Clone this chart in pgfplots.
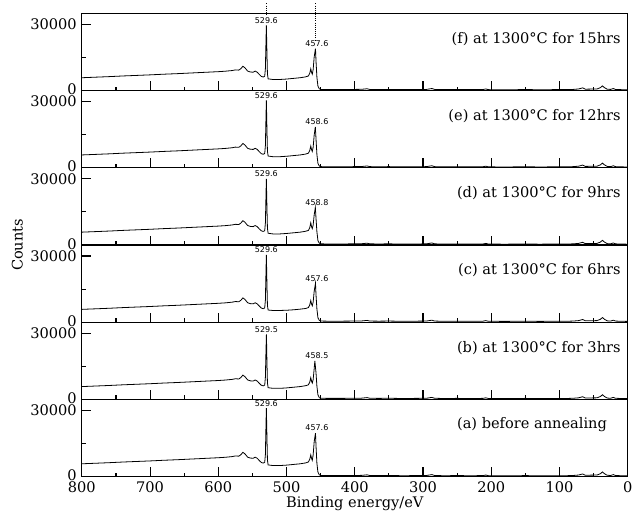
\documentclass[border=0pt,11pt]{standalone}
\usepackage{fontspec}
\setmainfont{DejaVu Serif}
\newfontfamily\lblfont{DejaVu Sans}
\usepackage{pgfplots}
\usepgfplotslibrary{groupplots}
\pgfplotsset{compat=1.18}

% shared parts of the survey spectra
\pgfplotstableread{
x y
800 5800
780 6050
760 6300
740 6600
720 6850
700 7100
680 7400
660 7650
640 7950
620 8250
600 8550
590 8750
580 9050
575 9350
570 9250
567 9900
564 11000
561 10300
557 8800
553 8400
549 8300
546 8800
543 8300
540 7300
537 6400
534 6100
}\hiBE
\pgfplotstableread{
x y
452 800
450 500
440 450
420 450
400 500
390 550
382 800
378 500
365 450
350 500
330 400
310 450
295 500
287 900
283 500
270 400
250 450
230 400
212 450
208 700
204 400
180 350
160 400
150 450
130 350
110 400
90 400
80 500
72 700
66 1200
62 600
55 650
45 700
40 1300
37 2100
34 1300
30 600
25 500
21 900
18 500
10 400
0 350
}\loBE

\tikzset{spec/.style={black, line width=0.6pt, mark=none},
  pk/.style={font=\lblfont\fontsize{6}{6}\selectfont, anchor=south, inner sep=1pt},
  ptxt/.style={anchor=east, inner sep=1pt}}

\begin{document}
\begin{tikzpicture}
\begin{groupplot}[
  group style={group size=1 by 6, vertical sep=0pt, xticklabels at=edge bottom},
  width=410pt, height=58pt, scale only axis,
  xmin=0, xmax=800, x dir=reverse, ymin=0, ymax=35000,
  xtick={0,100,...,800}, minor xtick={50,150,...,750},
  ytick={0,30000}, minor ytick={15000},
  yticklabels={\raisebox{2pt}{0},30000},
  scaled y ticks=false,
  /pgf/number format/set thousands separator={},
  /pgf/number format/assume math mode=true,
  tick align=inside, xtick pos=bottom, ytick pos=left,
  major tick length=7pt, minor tick length=3pt,
  every tick/.style={black, line width=0.8pt},
  axis line style={line width=0.9pt},
  clip=false,
]
% (f)
\nextgroupplot
\addplot[spec] table {\hiBE};
\addplot[spec] table {
534 6100
532 6500
531 10000
530.3 20000
529.6 29500
528.8 18000
528 7500
527 5300
520 5000
510 5000
500 5200
490 5500
480 5800
472 6200
468 6600
466 7800
464.5 9800
463.3 8200
462.3 7400
461 9500
459.5 15200
457.6 19000
456.8 13300
455.5 6000
454 2000
452 800
};
\addplot[spec] table {\loBE};
\node[pk] at (axis cs:529.6,29700) {529.6};
\node[pk] at (axis cs:455.5,19200) {457.6};
\draw[densely dotted, line width=0.6pt] (axis cs:529.6,39500) -- (axis cs:529.6,34500);
\draw[densely dotted, line width=0.6pt] (axis cs:457.6,39500) -- (axis cs:457.6,22500);
\node[ptxt] at (rel axis cs:0.99,0.67) {(f) at 1300°C for 15hrs};
% (e)
\nextgroupplot
\addplot[spec] table {\hiBE};
\addplot[spec] table {
534 6100
532 6500
531 10000
530.3 20500
529.6 30500
528.8 18500
528 7500
527 5300
520 5000
510 5000
500 5200
490 5500
480 5800
472 6200
468 6600
466 7800
464.5 9800
463.3 8200
462.3 7400
461 9300
459.5 14800
457.8 18500
456.8 13000
455.5 6000
454 2000
452 800
};
\addplot[spec] table {\loBE};
\node[pk] at (axis cs:529.6,30700) {529.6};
\node[pk] at (axis cs:455.5,18700) {458.6};
\node[ptxt] at (rel axis cs:0.99,0.67) {(e) at 1300°C for 12hrs};
% (d)
\nextgroupplot
\addplot[spec] table {\hiBE};
\addplot[spec] table {
534 6100
532 6500
531 10000
530.3 20000
529.6 30000
528.8 18000
528 7500
527 5300
520 5000
510 5000
500 5200
490 5500
480 5800
472 6200
468 6600
466 7800
464.5 10000
463.3 8200
462.3 7400
461 9000
459.5 13600
457.8 17000
456.8 12000
455.5 6000
454 2000
452 800
};
\addplot[spec] table {\loBE};
\node[pk] at (axis cs:529.6,30200) {529.6};
\node[pk] at (axis cs:455.5,17200) {458.8};
\node[ptxt] at (rel axis cs:0.99,0.67) {(d) at 1300°C for 9hrs};
% (c)
\nextgroupplot
\addplot[spec] table {\hiBE};
\addplot[spec] table {
534 6100
532 6500
531 10000
530.3 20500
529.6 30500
528.8 18500
528 7500
527 5500
520 5300
510 5300
500 5400
490 5600
480 5900
472 6200
468 6600
466 7800
464.5 9800
463.3 8200
462.3 7400
461 9100
459.5 14000
457.6 17600
456.8 12300
455.5 6000
454 2000
452 800
};
\addplot[spec] table {\loBE};
\node[pk] at (axis cs:529.6,30700) {529.6};
\node[pk] at (axis cs:455.5,17800) {457.6};
\node[ptxt] at (rel axis cs:0.99,0.67) {(c) at 1300°C for 6hrs};
% (b)
\nextgroupplot
\addplot[spec] table {\hiBE};
\addplot[spec] table {
534 6100
532 6500
531 10000
530.3 20000
529.5 29500
528.8 18000
528 7500
527 5300
520 5000
510 5000
500 5200
490 5500
480 5800
472 6200
468 6600
466 7800
464.5 9800
463.3 8200
462.3 7400
461 9000
459.5 13900
458.5 17400
456.8 12000
455.5 6000
454 2000
452 800
};
\addplot[spec] table {\loBE};
\node[pk] at (axis cs:529.5,29700) {529.5};
\node[pk] at (axis cs:455.5,17600) {458.5};
\node[ptxt] at (rel axis cs:0.99,0.67) {(b) at 1300°C for 3hrs};
% (a)
\nextgroupplot[xlabel={Binding energy/eV}, xlabel style={yshift=5pt}]
\addplot[spec] table {\hiBE};
\addplot[spec] table {
534 6100
532 6500
531 10000
530.3 21000
529.6 31000
528.8 19000
528 7500
527 5300
520 5000
510 5000
500 5200
490 5500
480 5800
472 6200
468 6600
466 7800
464.5 9800
463.3 8200
462.3 7400
461 9800
459.5 15800
457.6 19700
456.8 13800
455.5 6000
454 2000
452 800
};
\addplot[spec] table {\loBE};
\node[pk] at (axis cs:529.6,31200) {529.6};
\node[pk] at (axis cs:455.5,19900) {457.6};
\node[ptxt] at (rel axis cs:0.965,0.67) {(a) before annealing};
\end{groupplot}
\node[rotate=90] at ([xshift=-48.5pt]group c1r3.south west) {Counts};
\path ([xshift=-61.5pt]group c1r6.south west);
\path ([xshift=10pt,yshift=10pt]group c1r1.north east);
\end{tikzpicture}
\end{document}
